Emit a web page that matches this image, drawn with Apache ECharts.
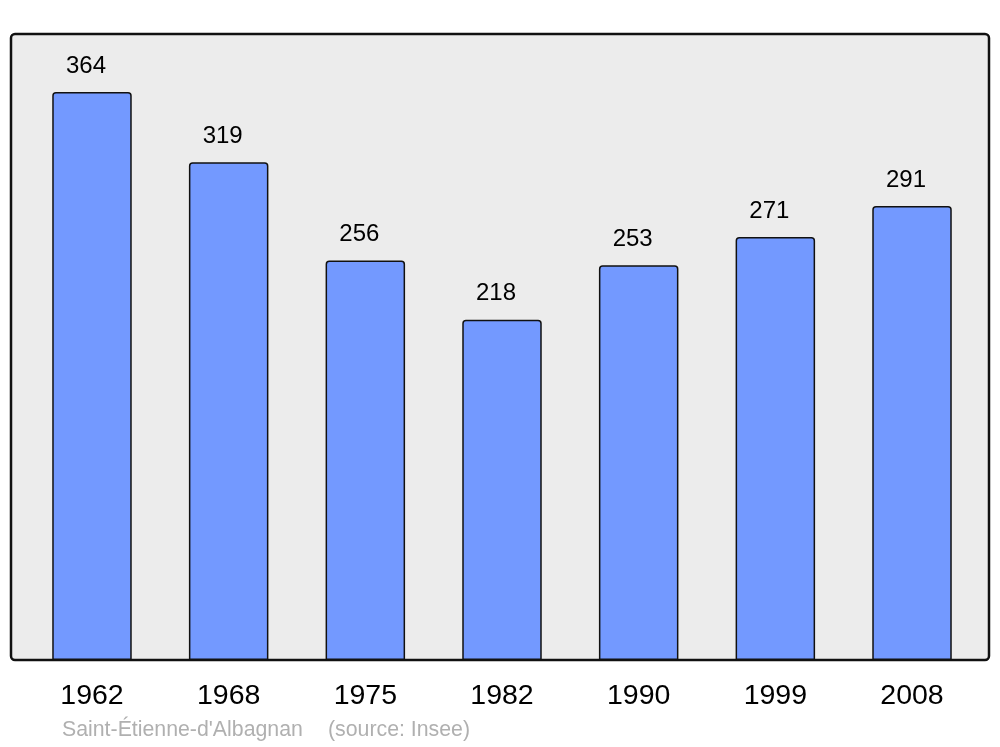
<!DOCTYPE html>
<html><head><meta charset="utf-8">
<script src="https://cdn.jsdelivr.net/npm/echarts@6/dist/echarts.min.js"></script>
<style>html,body{margin:0;padding:0;background:#fff}#c{width:1000px;height:747px}</style>
</head><body><div id="c"></div>
<script>
const years = ['1962','1968','1975','1982','1990','1999','2008'];
const population = [364, 319, 256, 218, 253, 271, 291];
const place = "Saint-Étienne-d'Albagnan";
const source = '(source: Insee)';

const chart = echarts.init(document.getElementById('c'), null, {renderer: 'canvas'});
const FONT = '"Liberation Sans", Arial, sans-serif';
chart.setOption({
  animation: false,
  backgroundColor: '#ffffff',
  graphic: [
    {type: 'rect', z: -10, shape: {x: 11, y: 34, width: 978, height: 626, r: 4},
     style: {fill: '#ececec', stroke: '#111', lineWidth: 2.5}},
    {type: 'text', left: 62, top: 720, style: {text: place, fill: '#b0b0b0', font: '21.3px ' + FONT}},
    {type: 'text', left: 328, top: 720, style: {text: source, fill: '#b0b0b0', font: '21.3px ' + FONT}}
  ],
  grid: {left: 23.65, right: 19.65, top: 35.8, bottom: 87},
  xAxis: {
    type: 'category', data: years,
    axisLine: {show: false}, axisTick: {show: false},
    axisLabel: {color: '#000', fontSize: 28.5, fontFamily: FONT, margin: 22}
  },
  yAxis: {type: 'value', min: 0, max: 400, show: false, splitLine: {show: false}},
  series: [{
    type: 'bar', data: population, barWidth: 79.5,
    itemStyle: {color: '#7399ff', borderColor: '#111', borderWidth: 1.5, borderRadius: [3, 3, 0, 0]},
    label: {show: true, position: 'top', distance: 14, offset: [-6, 0], color: '#000', fontSize: 24, fontFamily: FONT}
  }]
});
</script></body></html>
